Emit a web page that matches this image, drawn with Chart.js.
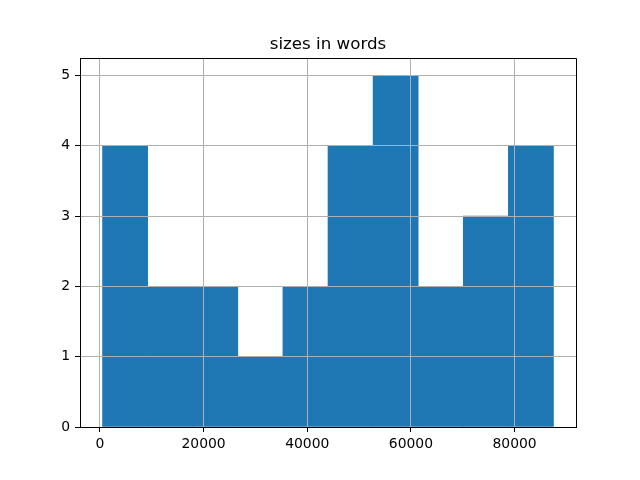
<!DOCTYPE html>
<html>
<head>
<meta charset="utf-8">
<script src="https://cdn.jsdelivr.net/npm/chart.js@4.4.1/dist/chart.umd.min.js"></script>
<style>
  html, body { margin: 0; padding: 0; background: #fff; }
  #wrap { width: 640px; height: 480px; }
</style>
</head>
<body>
<div id="wrap"><canvas id="hist" width="640" height="480"></canvas></div>
<script>
// 直方圖的資料 (10 個 bin)
const binEdges = [500, 9200, 17900, 26600, 35300, 44000, 52700, 61400, 70100, 78800, 87500];
const counts = [4, 2, 2, 1, 2, 4, 5, 2, 3, 4];
const xTicks = [0, 20000, 40000, 60000, 80000];
const yTicks = [0, 1, 2, 3, 4, 5];
const titleText = 'sizes in words';

// 每個 bin 的中心點
const points = counts.map((c, i) => ({ x: (binEdges[i] + binEdges[i + 1]) / 2, y: c }));

// 上方跟右方的框線 (matplotlib spines) + 標題置中在繪圖區上方
const frameAndTitle = {
    id: 'frameAndTitle',
    afterDraw(chart) {
        const a = chart.chartArea;
        const ctx = chart.ctx;
        ctx.save();
        ctx.strokeStyle = '#000';
        ctx.lineWidth = 1;
        ctx.beginPath();
        ctx.moveTo(a.left, a.top + 0.5);
        ctx.lineTo(a.right + 0.5, a.top + 0.5);
        ctx.lineTo(a.right + 0.5, a.bottom);
        ctx.stroke();
        // 標題
        ctx.fillStyle = '#000';
        ctx.font = '16.7px "DejaVu Sans"';
        ctx.textAlign = 'center';
        ctx.textBaseline = 'alphabetic';
        ctx.fillText(titleText, (a.left + a.right) / 2, a.top - 9.5);
        ctx.restore();
    }
};

const tickFont = { family: 'DejaVu Sans', size: 13.9 };

new Chart(document.getElementById('hist'), {
    type: 'bar',
    data: {
        datasets: [{
            data: points,
            backgroundColor: '#1f77b4',
            borderWidth: 0,
            barPercentage: 1,
            categoryPercentage: 1
        }]
    },
    options: {
        responsive: false,
        animation: false,
        layout: { padding: { left: 0, right: 64, top: 58, bottom: 0 } },
        scales: {
            x: {
                type: 'linear',
                offset: false,
                min: -3850,
                max: 91850,
                afterBuildTicks: (s) => { s.ticks = xTicks.map(v => ({ value: v })); },
                afterFit: (s) => { s.height = 53; },
                grid: { offset: false, color: '#b0b0b0', lineWidth: 1, z: 1, tickColor: '#000', tickLength: 5, tickWidth: 1 },
                border: { color: '#000', width: 1, z: 2 },
                ticks: { color: '#000', font: tickFont, padding: 4, maxRotation: 0, autoSkip: false,
                         callback: (v) => String(v) }
            },
            y: {
                type: 'linear',
                min: 0,
                max: 5.25,
                afterBuildTicks: (s) => { s.ticks = yTicks.map(v => ({ value: v })); },
                afterFit: (s) => { s.width = 80; },
                grid: { color: '#b0b0b0', lineWidth: 1, z: 1, tickColor: '#000', tickLength: 5, tickWidth: 1 },
                border: { color: '#000', width: 1, z: 2 },
                ticks: { color: '#000', font: tickFont, padding: 5, callback: (v) => String(v) }
            }
        },
        plugins: {
            legend: { display: false },
            tooltip: { enabled: false },
            title: { display: false }
        }
    },
    plugins: [frameAndTitle]
});
</script>
</body>
</html>
